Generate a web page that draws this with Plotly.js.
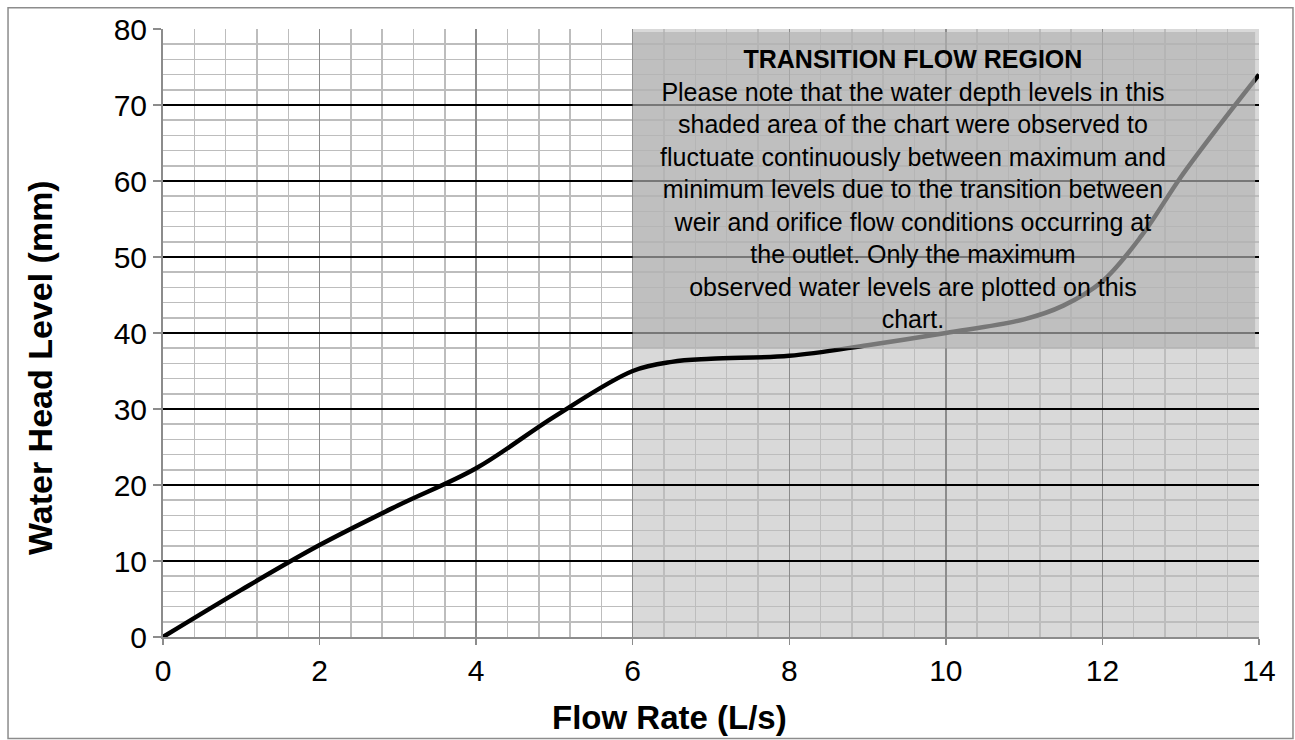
<!DOCTYPE html>
<html>
<head>
<meta charset="utf-8">
<script src="https://cdn.plot.ly/plotly-3.0.1.min.js"></script>
<style>
html,body{margin:0;padding:0;background:#fff;}
#chart{width:1295px;height:740px;}
</style>
</head>
<body>
<div id="chart"></div>
<script>
// Data
const flowRate = [0, 1, 2, 3, 4, 5, 6, 6.5, 7, 8, 9, 10, 11, 11.5, 12, 12.5, 13, 13.5, 14];
const headLevel = [0, 6.2, 12.1, 17.3, 22.2, 29, 35, 36.2, 36.6, 37.0, 38.4, 40, 41.8, 43.6, 46.8, 52.8, 60.5, 67.4, 74];

const xTicks = [0, 2, 4, 6, 8, 10, 12, 14];
const yTicks = [0, 10, 20, 30, 40, 50, 60, 70, 80];

const xTitle = "Flow Rate (L/s)";
const yTitle = "Water Head Level (mm)";

// Transition region extents
const transitionX = [6, 14];
const noteBoxX = [6, 13.95];
const noteBoxY = [38, 79.6];

const noteLines = [
  "<b>TRANSITION FLOW REGION</b>",
  "Please note that the water depth levels in this",
  "shaded area of the chart were observed to",
  "fluctuate continuously between maximum and",
  "minimum levels due to the transition between",
  "weir and orifice flow conditions occurring at",
  "the outlet. Only the maximum",
  "observed water levels are plotted on this",
  "chart."
];

const font = "Liberation Sans, Arial, sans-serif";

const trace = {
  x: flowRate,
  y: headLevel,
  type: "scatter",
  mode: "lines",
  line: {color: "#000", width: 4.5, shape: "spline", smoothing: 1.0},
  hoverinfo: "skip"
};

const layout = {
  width: 1295,
  height: 740,
  margin: {l: 163, r: 36, t: 29, b: 103},
  paper_bgcolor: "#fff",
  plot_bgcolor: "#fff",
  showlegend: false,
  font: {family: font, color: "#000"},
  xaxis: {
    range: [0, 14],
    tickvals: xTicks,
    ticktext: xTicks.map(String),
    tickfont: {size: 30, family: font, color: "#000"},
    showgrid: true,
    gridcolor: "#8c8c8c",
    gridwidth: 1.5,
    minor: {dtick: 0.4, tick0: 0, showgrid: true, gridcolor: "#bdbdbd", gridwidth: 1.5, ticks: ""},
    showline: true,
    linecolor: "#8c8c8c",
    linewidth: 2,
    ticks: "outside",
    ticklen: 6,
    tickcolor: "#8c8c8c",
    tickwidth: 1.5,
    zeroline: false
  },
  yaxis: {
    range: [0, 80],
    tickvals: yTicks,
    ticktext: yTicks.map(String),
    tickfont: {size: 30, family: font, color: "#000"},
    showgrid: true,
    gridcolor: "#000",
    gridwidth: 1.5,
    minor: {dtick: 2, tick0: 0, showgrid: true, gridcolor: "#bdbdbd", gridwidth: 1.5, ticks: ""},
    showline: true,
    linecolor: "#8c8c8c",
    linewidth: 2,
    ticks: "outside",
    ticklen: 8,
    tickcolor: "#8c8c8c",
    tickwidth: 1.5,
    zeroline: false
  },
  shapes: [
    {type: "rect", xref: "x", yref: "y", x0: transitionX[0], x1: transitionX[1], y0: 0, y1: 80,
     fillcolor: "#d9d9d9", line: {width: 0}, layer: "below"},
    {type: "rect", xref: "x", yref: "y", x0: noteBoxX[0], x1: noteBoxX[1], y0: noteBoxY[0], y1: noteBoxY[1],
     fillcolor: "rgba(177,177,177,0.67)", line: {width: 0}, layer: "above"},
    {type: "rect", xref: "paper", yref: "paper", x0: -0.1414, x1: 1.031, y0: -0.167, y1: 1.035,
     fillcolor: "rgba(0,0,0,0)", line: {color: "#8c8c8c", width: 1.5}, layer: "above"}
  ],
  annotations: [
    {xref: "x", yref: "y", x: 9.58, y: 59.0, xanchor: "center", yanchor: "middle",
     text: noteLines.join("<br>"), showarrow: false, align: "center",
     font: {size: 25, family: font, color: "#000"}},
    {xref: "paper", yref: "paper", x: 0.4617, y: -0.1325, xanchor: "center", yanchor: "middle",
     text: "<b>" + xTitle + "</b>", showarrow: false,
     font: {size: 33, family: font, color: "#000"}},
    {xref: "paper", yref: "paper", x: -0.1122, y: 0.4424, xanchor: "center", yanchor: "middle",
     text: "<b>" + yTitle + "</b>", showarrow: false, textangle: -90,
     font: {size: 34, family: font, color: "#000"}}
  ]
};

Plotly.newPlot("chart", [trace], layout, {displayModeBar: false, staticPlot: true});
</script>
</body>
</html>
